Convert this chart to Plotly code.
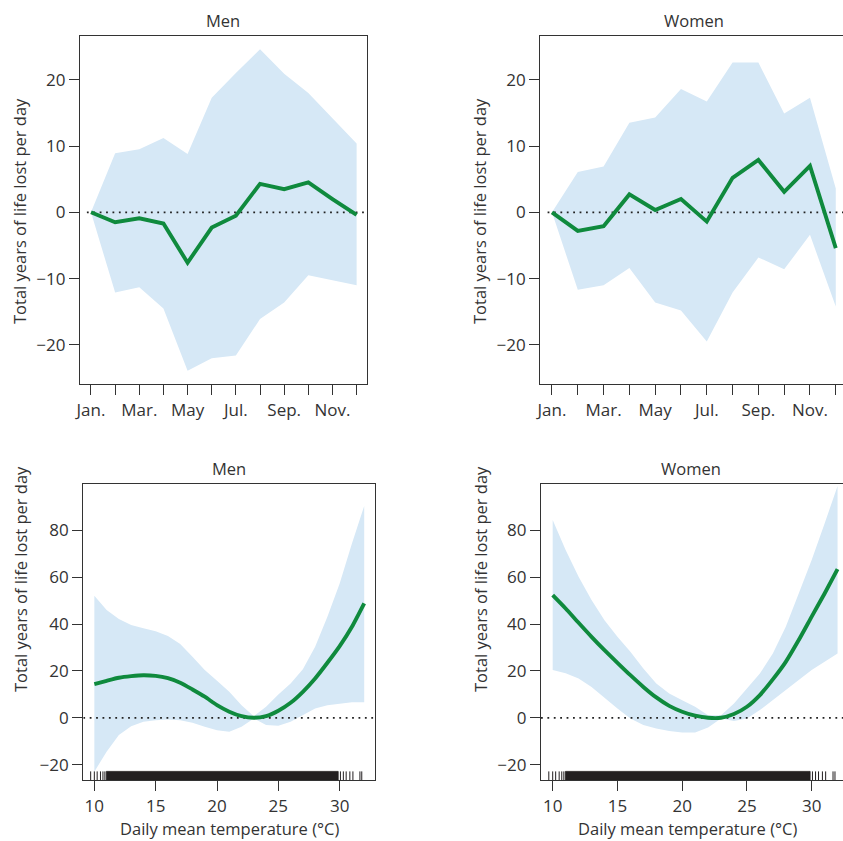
import plotly.graph_objects as go

# ---------------- data ----------------
months = [1, 2, 3, 4, 5, 6, 7, 8, 9, 10, 11, 12]
month_labels = ["Jan.", "", "Mar.", "", "May", "", "Jul.", "", "Sep.", "", "Nov.", ""]

men_month_est = [0, -1.5, -0.9, -1.7, -7.6, -2.3, -0.5, 4.3, 3.5, 4.5, 2.0, -0.4]
men_month_hi = [0, 8.9, 9.5, 11.2, 8.8, 17.3, 21.0, 24.6, 20.9, 18.0, 14.2, 10.4]
men_month_lo = [0, -12.1, -11.3, -14.5, -23.9, -22.0, -21.6, -16.1, -13.6, -9.5, -10.2, -11.0]

women_month_est = [0, -2.8, -2.1, 2.7, 0.35, 2.0, -1.4, 5.2, 7.9, 3.1, 7.0, -5.4]
women_month_hi = [0, 6.1, 6.9, 13.5, 14.3, 18.6, 16.7, 22.6, 22.6, 14.9, 17.3, 3.6]
women_month_lo = [0, -11.7, -11.0, -8.4, -13.6, -14.8, -19.5, -12.1, -6.8, -8.6, -3.4, -14.2]

temps = [10, 11, 12, 13, 14, 15, 16, 17, 18, 19, 20, 21, 22, 23, 24, 25, 26, 27, 28, 29, 30, 31, 32]

men_temp_est = [14.4, 15.8, 17.1, 17.8, 18.2, 17.9, 16.9, 15.0, 12.1, 9.0, 5.4, 2.6, 0.7, 0.0,
                0.7, 3.0, 6.4, 11.1, 16.8, 23.5, 30.6, 38.9, 48.9]
men_temp_hi = [52.1, 46.0, 42.2, 39.6, 38.2, 37.0, 34.9, 31.5, 26.1, 20.4, 15.8, 11.1, 5.4, 0.7,
               4.7, 10.0, 14.7, 20.7, 30.3, 43.2, 57.4, 74.5, 90.5]
men_temp_lo = [-23.0, -14.5, -7.4, -3.6, -1.7, -1.0, -0.7, -1.0, -2.1, -3.8, -5.3, -6.0, -3.8, -0.3,
               -3.1, -3.4, -1.7, 1.1, 4.0, 5.4, 6.1, 6.6, 6.6]

women_temp_est = [52.4, 46.7, 40.6, 34.6, 28.9, 23.5, 18.2, 13.2, 8.7, 5.1, 2.6, 0.9, 0.0, 0.0,
                  1.6, 4.7, 9.7, 16.4, 23.9, 33.2, 43.2, 53.1, 63.5]
women_temp_hi = [84.5, 71.7, 60.3, 50.3, 41.7, 34.6, 28.2, 21.1, 14.7, 10.4, 7.5, 4.7, 1.1, 1.1,
                 6.1, 12.5, 18.9, 27.5, 38.9, 53.1, 67.4, 83.0, 99.0]
women_temp_lo = [20.4, 19.0, 16.8, 13.2, 8.7, 4.0, -0.3, -3.1, -4.6, -5.6, -6.3, -6.3, -4.1, -0.3,
                 -1.4, -0.3, 3.3, 7.5, 11.8, 16.1, 20.4, 23.9, 27.5]

# rug of observed daily mean temperatures: sparse ticks at the ends, solid run in between
rug_sparse = [9.7, 10.0, 10.23, 10.5, 10.7, 10.86, 30.06, 30.3, 30.53, 30.83, 31.08, 31.65, 31.8]
rug_dense = [10.98, 29.88]

month_ticks_y = [-20, -10, 0, 10, 20]
temp_ticks_x = [10, 15, 20, 25, 30]
temp_ticks_y = [-20, 0, 20, 40, 60, 80]

# ---------------- style ----------------
W, H = 843, 841
GREEN = "#0f8a3d"
BAND = "#d6e8f6"
INK = "#333333"
FONT = "Open Sans"
FS = 16.5
TFS = 17

def px(x):
    return x / W

def py(y):
    return 1 - y / H

fig = go.Figure()

panels = [
    dict(n=1, x=months, est=men_month_est, hi=men_month_hi, lo=men_month_lo,
         dx=[px(80), px(367)], dy=[py(384), py(36)], xr=[0.545, 12.43], yr=[-25.9, 26.6],
         right=True, kind="month"),
    dict(n=2, x=months, est=women_month_est, hi=women_month_hi, lo=women_month_lo,
         dx=[px(540.3), 1.0], dy=[py(384), py(36)], xr=[0.547, 12.28], yr=[-25.9, 26.6],
         right=False, kind="month"),
    dict(n=3, x=temps, est=men_temp_est, hi=men_temp_hi, lo=men_temp_lo,
         dx=[px(83.3), px(375)], dy=[py(780.3), py(483.7)], xr=[9.1, 32.88], yr=[-26.7, 100],
         right=True, kind="temp"),
    dict(n=4, x=temps, est=women_temp_est, hi=women_temp_hi, lo=women_temp_lo,
         dx=[px(541), 1.0], dy=[py(780.3), py(483.7)], xr=[9.097, 32.42], yr=[-26.7, 100],
         right=False, kind="temp"),
]

for p in panels:
    n = p["n"]
    xa = "x" if n == 1 else f"x{n}"
    ya = "y" if n == 1 else f"y{n}"
    xs = p["x"]
    fig.add_trace(go.Scatter(
        x=list(xs) + list(xs)[::-1], y=list(p["hi"]) + list(p["lo"])[::-1],
        fill="toself", fillcolor=BAND, line=dict(width=0), mode="lines",
        xaxis=xa, yaxis=ya, hoverinfo="skip", showlegend=False))
    x0 = 0.83 if p["kind"] == "month" else p["xr"][0]
    fig.add_trace(go.Scatter(
        x=[x0, p["xr"][1]], y=[0, 0], mode="lines",
        line=dict(color="#222222", width=1.8, dash="1.8px,4.6px"),
        xaxis=xa, yaxis=ya, hoverinfo="skip", showlegend=False))
    fig.add_trace(go.Scatter(
        x=xs, y=p["est"], mode="lines",
        line=dict(color=GREEN, width=3.9,
                  shape="spline" if p["kind"] == "temp" else "linear", smoothing=0.6),
        xaxis=xa, yaxis=ya, showlegend=False))
    if p["kind"] == "temp":
        ybot = p["yr"][0]
        ytop = ybot + 0.03 * (p["yr"][1] - p["yr"][0])
        rx, ry = [], []
        for t in rug_sparse:
            rx += [t, t, None]
            ry += [ybot, ytop, None]
        fig.add_trace(go.Scatter(x=rx, y=ry, mode="lines",
                                 line=dict(color="#231f20", width=1),
                                 xaxis=xa, yaxis=ya, hoverinfo="skip", showlegend=False))
        a, b = rug_dense
        fig.add_trace(go.Scatter(x=[a, b, b, a, a], y=[ybot, ybot, ytop, ytop, ybot],
                                 fill="toself", fillcolor="#231f20", mode="lines",
                                 line=dict(width=0.8, color="#231f20"),
                                 xaxis=xa, yaxis=ya, hoverinfo="skip", showlegend=False))

    common = dict(showgrid=False, zeroline=False, showline=True, linecolor=INK, linewidth=1.3,
                  ticks="outside", ticklen=10, tickwidth=1.1, tickcolor=INK, automargin=False,
                  tickfont=dict(family=FONT, size=TFS, color=INK))
    xkey = "xaxis" if n == 1 else f"xaxis{n}"
    ykey = "yaxis" if n == 1 else f"yaxis{n}"
    if p["kind"] == "month":
        xt = dict(tickmode="array", tickvals=months, ticktext=month_labels)
        yt = dict(tickmode="array", tickvals=month_ticks_y)
    else:
        xt = dict(tickmode="array", tickvals=temp_ticks_x)
        yt = dict(tickmode="array", tickvals=temp_ticks_y)
    fig.update_layout({
        xkey: dict(domain=p["dx"], range=p["xr"], anchor=ya, mirror=True, **xt, **common),
        ykey: dict(domain=p["dy"], range=p["yr"], anchor=xa, mirror=p["right"], **yt, **common),
    })

# ---------------- text ----------------
ann = []
def text(x, y, s, angle=0, size=FS):
    ann.append(dict(x=px(x), y=py(y), xref="paper", yref="paper", text=s, showarrow=False,
                    textangle=angle, xanchor="center", yanchor="middle",
                    font=dict(family=FONT, size=size, color=INK)))

text(223.5, 21, "Men")
text(694, 21, "Women")
text(229, 468, "Men")
text(690.7, 468, "Women")
ylab = "Total years of life lost per day"
text(20, 211, ylab, angle=-90)
text(480, 211, ylab, angle=-90)
text(20, 579, ylab, angle=-90)
text(480, 579, ylab, angle=-90)
text(229, 828, "Daily mean temperature (°C)")
text(687, 828, "Daily mean temperature (°C)")

fig.update_layout(width=W, height=H, margin=dict(l=0, r=0, t=0, b=0, pad=0),
                  paper_bgcolor="white", plot_bgcolor="white", annotations=ann,
                  showlegend=False)

fig.write_html("out.html", config={"displayModeBar": False},
               post_script="document.body.style.margin='0px';"
                           "document.body.style.overflow='hidden';")
